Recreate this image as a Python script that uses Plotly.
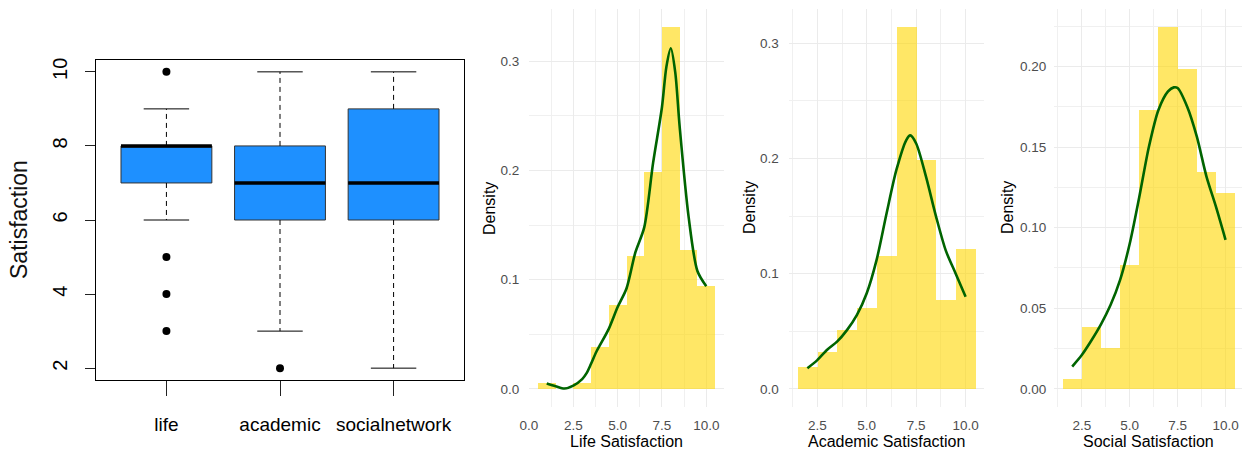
import plotly.graph_objects as go

# ---------------- data ----------------
box_categories = ["life", "academic", "socialnetwork"]
box_q1 = [7, 6, 6]
box_median = [8, 7, 7]
box_q3 = [8, 8, 9]
box_lower = [6, 3, 2]
box_upper = [9, 10, 10]
box_outliers = [[10, 5, 4, 3], [2], []]

life_bins = [1, 2, 3, 4, 5, 6, 7, 8, 9, 10]
life_density = [0.0055, 0.0, 0.0055, 0.0387, 0.0773, 0.1215, 0.1989, 0.3315, 0.1271, 0.0939]
life_kde_x = [1.0, 1.5, 2.0, 2.5, 3.0, 3.25, 3.5, 3.8, 4.0, 4.5, 5.0, 5.5, 6.0, 6.5, 7.0, 7.5, 7.75, 8.0, 8.25, 8.5, 9.0, 9.5, 10.0]
life_kde_y = [0.005, 0.0025, 0.0003, 0.003, 0.009, 0.0144, 0.023, 0.034, 0.040, 0.055, 0.075, 0.092, 0.125, 0.148, 0.207, 0.258, 0.295, 0.312, 0.29, 0.24, 0.158, 0.108, 0.094]

acad_bins = [2, 3, 4, 5, 6, 7, 8, 9, 10]
acad_density = [0.0192, 0.0321, 0.0513, 0.0705, 0.1154, 0.3141, 0.1987, 0.0769, 0.1218]
acad_kde_x = [2.0, 2.5, 3.0, 3.5, 4.0, 4.5, 5.0, 5.5, 6.0, 6.5, 7.0, 7.2, 7.5, 8.0, 8.5, 9.0, 9.5, 10.0]
acad_kde_y = [0.018, 0.025, 0.034, 0.041, 0.051, 0.064, 0.083, 0.112, 0.152, 0.19, 0.216, 0.22, 0.213, 0.184, 0.15, 0.12, 0.10, 0.080]

soc_bins = [2, 3, 4, 5, 6, 7, 8, 9, 10]
soc_density = [0.0064, 0.0385, 0.0256, 0.0769, 0.1731, 0.2244, 0.1987, 0.1346, 0.1218]
soc_kde_x = [2.0, 2.5, 3.0, 3.5, 4.0, 4.5, 5.0, 5.5, 6.0, 6.5, 7.0, 7.3, 7.5, 8.0, 8.5, 9.0, 9.5, 10.0]
soc_kde_y = [0.0139, 0.021, 0.030, 0.040, 0.052, 0.0676, 0.090, 0.119, 0.150, 0.173, 0.1845, 0.187, 0.1866, 0.175, 0.1566, 0.132, 0.113, 0.0925]

# ---------------- figure ----------------
W, H = 1242, 452
fig = go.Figure()

BOX_FILL = "#1E90FF"
positions = list(range(1, len(box_categories) + 1))

for i, pos in enumerate(positions):
    fig.add_trace(go.Box(
        x=[pos], q1=[box_q1[i]], median=[box_median[i]], q3=[box_q3[i]],
        lowerfence=[box_q1[i]], upperfence=[box_q3[i]],
        width=0.8, fillcolor=BOX_FILL, line=dict(color="#333333", width=1),
        boxpoints=False, whiskerwidth=0, xaxis="x", yaxis="y", showlegend=False,
        hoverinfo="skip"))

# whiskers (dashed)
wx, wy = [], []
for i, pos in enumerate(positions):
    wx += [pos, pos, None, pos, pos, None]
    wy += [box_q3[i], box_upper[i], None, box_q1[i], box_lower[i], None]
fig.add_trace(go.Scatter(x=wx, y=wy, mode="lines", line=dict(color="black", width=1, dash="5px,4px"),
                         xaxis="x", yaxis="y", showlegend=False, hoverinfo="skip"))
# caps
cx, cy = [], []
for i, pos in enumerate(positions):
    for v in (box_upper[i], box_lower[i]):
        cx += [pos - 0.2, pos + 0.2, None]
        cy += [v, v, None]
fig.add_trace(go.Scatter(x=cx, y=cy, mode="lines", line=dict(color="black", width=1),
                         xaxis="x", yaxis="y", showlegend=False, hoverinfo="skip"))
# medians
mx, my = [], []
for i, pos in enumerate(positions):
    mx += [pos - 0.4, pos + 0.4, None]
    my += [box_median[i], box_median[i], None]
fig.add_trace(go.Scatter(x=mx, y=my, mode="lines", line=dict(color="black", width=3.5),
                         xaxis="x", yaxis="y", showlegend=False, hoverinfo="skip"))
# outliers
ox, oy = [], []
for i, pos in enumerate(positions):
    for v in box_outliers[i]:
        ox.append(pos)
        oy.append(v)
fig.add_trace(go.Scatter(x=ox, y=oy, mode="markers", marker=dict(color="black", size=8),
                         xaxis="x", yaxis="y", showlegend=False, hoverinfo="skip"))

BAR = "rgba(255,215,0,0.6)"
KDE = "#006400"
for bins, dens, kx, ky, xa, ya in [
    (life_bins, life_density, life_kde_x, life_kde_y, "x2", "y2"),
    (acad_bins, acad_density, acad_kde_x, acad_kde_y, "x3", "y3"),
    (soc_bins, soc_density, soc_kde_x, soc_kde_y, "x4", "y4"),
]:
    fig.add_trace(go.Bar(x=bins, y=dens, width=1, marker=dict(color=BAR, line=dict(width=0)),
                         xaxis=xa, yaxis=ya, showlegend=False))
    fig.add_trace(go.Scatter(x=kx, y=ky, mode="lines", line=dict(color=KDE, width=2.6, shape="spline", smoothing=0.8),
                             xaxis=xa, yaxis=ya, showlegend=False))

def px_x(p):
    return p / W

def px_y(p):
    return (H - p) / H

FONT = "Liberation Sans, Arial, sans-serif"

box_ydom = [px_y(380), px_y(60)]
hist_ydom = [px_y(407), px_y(9)]
life_xdom = [px_x(529), px_x(724)]
acad_xdom = [px_x(788.6), px_x(984.4)]
soc_xdom = [px_x(1054), 1.0]

grid = dict(showgrid=True, gridcolor="#EBEBEB", gridwidth=1, zeroline=False, showline=False,
            tickfont=dict(family=FONT, size=13.5, color="#4D4D4D"), automargin=False,
            ticks="outside", ticklen=0, tickcolor="rgba(0,0,0,0)")
minor_x = dict(dtick=1.25, tick0=0, showgrid=True, gridcolor="#F0F0F0", gridwidth=0.7)

fig.update_layout(
    width=W, height=H, margin=dict(l=0, r=0, t=0, b=0),
    paper_bgcolor="white", plot_bgcolor="rgba(0,0,0,0)",
    font=dict(family=FONT), bargap=0,
    xaxis=dict(domain=[px_x(96), px_x(464)], range=[0.38, 3.62], tickvals=positions, ticktext=box_categories,
               showline=True, mirror=True, linecolor="black", linewidth=1.3, showgrid=False, zeroline=False,
               ticks="outside", ticklen=15, tickcolor="#222", tickwidth=1.3, automargin=False,
               tickfont=dict(family=FONT, size=19, color="black"), ticklabelstandoff=12),
    yaxis=dict(domain=box_ydom, range=[1.68, 10.32], tickvals=[2, 4, 6, 8, 10],
               showline=True, mirror=True, linecolor="black", linewidth=1.3, showgrid=False, zeroline=False,
               ticks="outside", ticklen=10, tickcolor="#222", tickwidth=1.3, tickangle=-90, automargin=False,
               tickfont=dict(family=FONT, size=20, color="black"), ticklabelstandoff=10),
    xaxis2=dict(domain=life_xdom, range=[0, 11], tickvals=[0, 2.5, 5, 7.5, 10], tickformat=".1f",
                anchor="y2", minor=minor_x, ticklabelstandoff=6, **grid),
    yaxis2=dict(domain=hist_ydom, range=[-0.0166, 0.348], tickvals=[0, 0.1, 0.2, 0.3], tickformat=".1f",
                anchor="x2", minor=dict(dtick=0.05, tick0=0, showgrid=True, gridcolor="#F0F0F0", gridwidth=0.7),
                ticklabelstandoff=6, **grid),
    xaxis3=dict(domain=acad_xdom, range=[1.05, 10.95], tickvals=[2.5, 5, 7.5, 10], tickformat=".1f",
                anchor="y3", minor=minor_x, ticklabelstandoff=6, **grid),
    yaxis3=dict(domain=hist_ydom, range=[-0.0157, 0.3297], tickvals=[0, 0.1, 0.2, 0.3], tickformat=".1f",
                anchor="x3", minor=dict(dtick=0.05, tick0=0, showgrid=True, gridcolor="#F0F0F0", gridwidth=0.7),
                ticklabelstandoff=6, **grid),
    xaxis4=dict(domain=soc_xdom, range=[1.05, 10.86], tickvals=[2.5, 5, 7.5, 10], tickformat=".1f",
                anchor="y4", minor=minor_x, ticklabelstandoff=6, **grid),
    yaxis4=dict(domain=hist_ydom, range=[-0.0112, 0.2356], tickvals=[0, 0.05, 0.1, 0.15, 0.2], tickformat=".2f",
                anchor="x4", minor=dict(dtick=0.025, tick0=0, showgrid=True, gridcolor="#F0F0F0", gridwidth=0.7),
                ticklabelstandoff=4, **grid),
)

ann_font_title = dict(family=FONT, size=16, color="black")
# boxplot y title
fig.add_annotation(text="Satisfaction", x=px_x(19), y=sum(box_ydom) / 2, xref="paper", yref="paper",
                   showarrow=False, textangle=-90, font=dict(family=FONT, size=23, color="#111"),
                   xanchor="center", yanchor="middle")
for title, xdom, dens_x in [("Life Satisfaction", life_xdom, 490), ("Academic Satisfaction", acad_xdom, 750),
                            ("Social Satisfaction", soc_xdom, 1008)]:
    fig.add_annotation(text=title, x=sum(xdom) / 2, y=px_y(441), xref="paper", yref="paper",
                       showarrow=False, font=ann_font_title, xanchor="center", yanchor="middle")
    fig.add_annotation(text="Density", x=px_x(dens_x), y=sum(hist_ydom) / 2, xref="paper", yref="paper",
                       showarrow=False, textangle=-90, font=ann_font_title, xanchor="center", yanchor="middle")

fig.write_html("out.html", config={"displayModeBar": False},
               post_script="document.body.style.margin='0px';document.body.style.overflow='hidden';")
